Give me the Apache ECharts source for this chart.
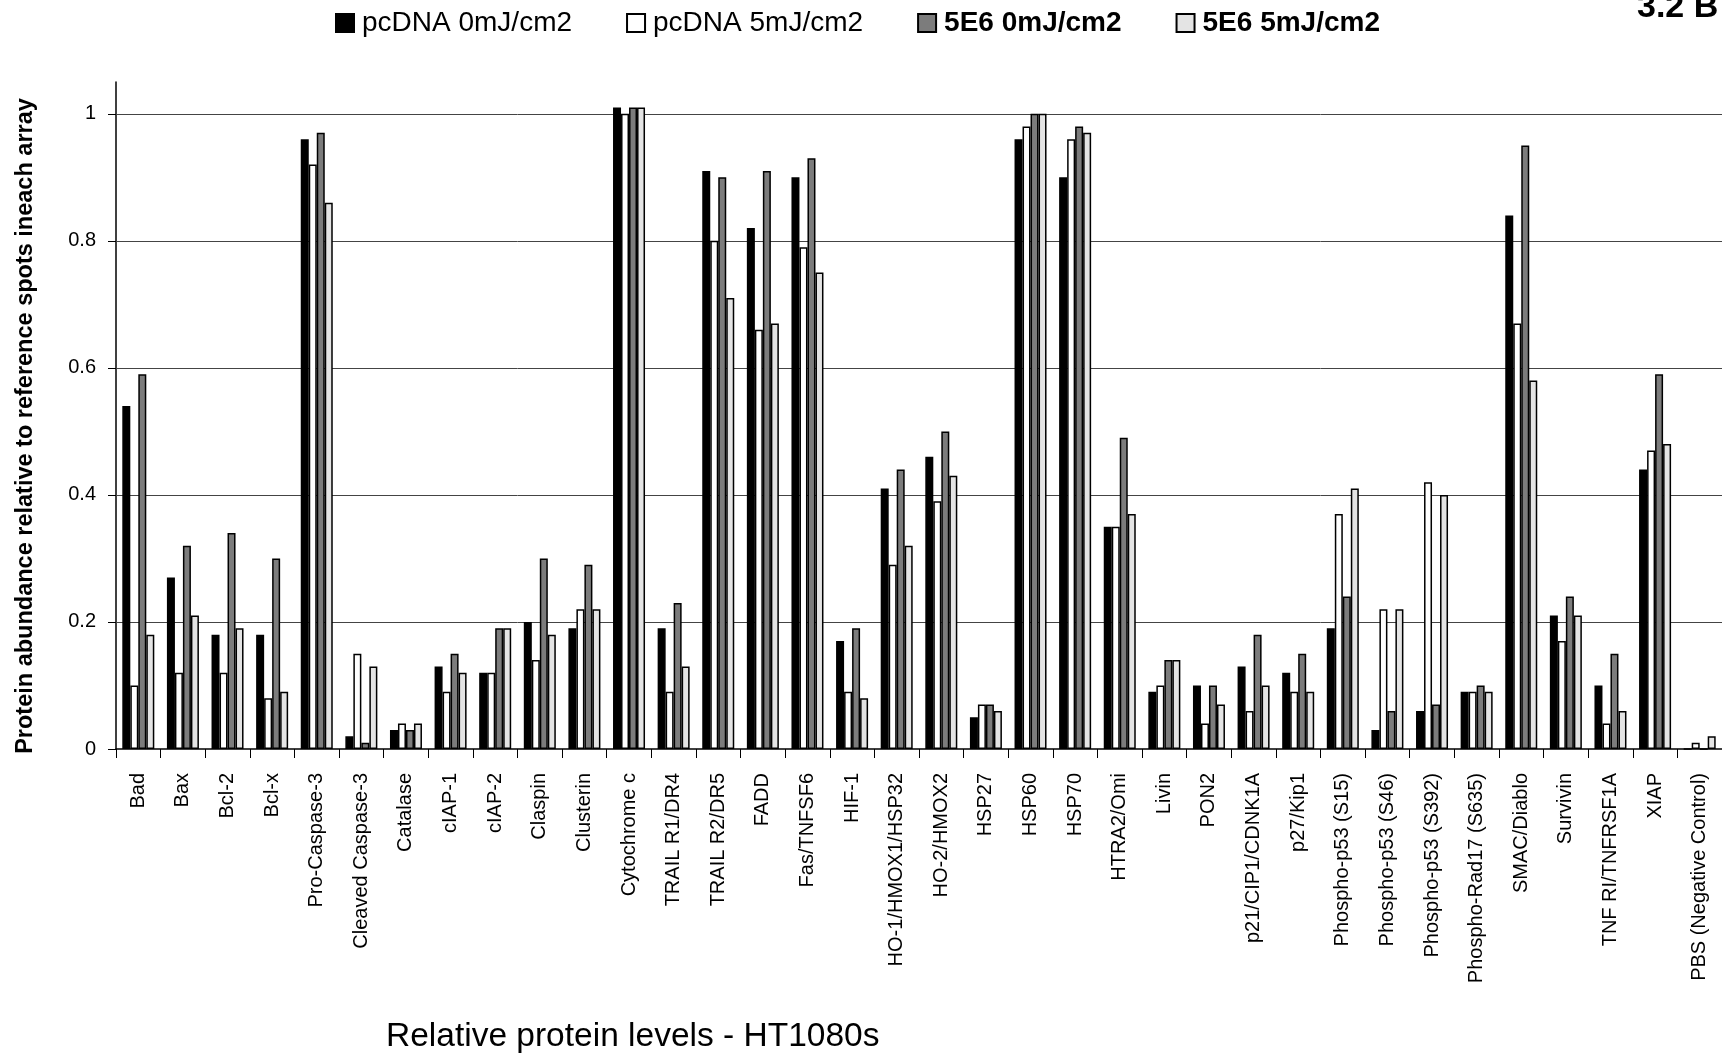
<!DOCTYPE html>
<html>
<head>
<meta charset="utf-8">
<script src="https://cdn.jsdelivr.net/npm/echarts@6/dist/echarts.min.js"></script>
<style>
html,body{margin:0;padding:0;background:#fff;}
#chart{width:1722px;height:1056px;}
</style>
</head>
<body>
<div id="chart"></div>
<script>
const categories = ["Bad","Bax","Bcl-2","Bcl-x","Pro-Caspase-3","Cleaved Caspase-3","Catalase","cIAP-1","cIAP-2","Claspin","Clusterin","Cytochrome c","TRAIL R1/DR4","TRAIL R2/DR5","FADD","Fas/TNFSF6","HIF-1","HO-1/HMOX1/HSP32","HO-2/HMOX2","HSP27","HSP60","HSP70","HTRA2/Omi","Livin","PON2","p21/CIP1/CDNK1A","p27/Kip1","Phospho-p53 (S15)","Phospho-p53 (S46)","Phospho-p53 (S392)","Phospho-Rad17 (S635)","SMAC/Diablo","Survivin","TNF RI/TNFRSF1A","XIAP","PBS (Negative Control)"];
const seriesNames = ["pcDNA 0mJ/cm2","pcDNA 5mJ/cm2","5E6 0mJ/cm2","5E6 5mJ/cm2"];
const pcDNA0 = [0.54,0.27,0.18,0.18,0.96,0.02,0.03,0.13,0.12,0.20,0.19,1.01,0.19,0.91,0.82,0.90,0.17,0.41,0.46,0.05,0.96,0.90,0.35,0.09,0.10,0.13,0.12,0.19,0.03,0.06,0.09,0.84,0.21,0.10,0.44,0.00];
const pcDNA5 = [0.10,0.12,0.12,0.08,0.92,0.15,0.04,0.09,0.12,0.14,0.22,1.00,0.09,0.80,0.66,0.79,0.09,0.29,0.39,0.07,0.98,0.96,0.35,0.10,0.04,0.06,0.09,0.37,0.22,0.42,0.09,0.67,0.17,0.04,0.47,0.01];
const e6_0 = [0.59,0.32,0.34,0.30,0.97,0.01,0.03,0.15,0.19,0.30,0.29,1.01,0.23,0.90,0.91,0.93,0.19,0.44,0.50,0.07,1.00,0.98,0.49,0.14,0.10,0.18,0.15,0.24,0.06,0.07,0.10,0.95,0.24,0.15,0.59,0.00];
const e6_5 = [0.18,0.21,0.19,0.09,0.86,0.13,0.04,0.12,0.19,0.18,0.22,1.01,0.13,0.71,0.67,0.75,0.08,0.32,0.43,0.06,1.00,0.97,0.37,0.14,0.07,0.10,0.09,0.41,0.22,0.40,0.09,0.58,0.21,0.06,0.48,0.02];
const yTicks = [0.2,0.4,0.6,0.8,1.0];

const FONT = '"Liberation Sans", Arial, sans-serif';
const chart = echarts.init(document.getElementById('chart'), null, {renderer:'canvas'});

const styles = [
  {color:'#000000', borderColor:'#000', borderWidth:1.5},
  {color:'#ffffff', borderColor:'#000', borderWidth:1.5},
  {color:'#7c7c7c', borderColor:'#000', borderWidth:1.5},
  {color:'#e4e4e4', borderColor:'#000', borderWidth:1.5}
];
const datas = [pcDNA0, pcDNA5, e6_0, e6_5];

const series = datas.map((d,i)=>({
  name: seriesNames[i],
  type:'bar',
  data:d,
  barWidth:8,
  barGap:'0%',
  itemStyle: styles[i],
  emphasis:{disabled:true},
  animation:false,
  z: 3
}));
series[0].markLine = {
  silent:true, symbol:'none', label:{show:false},
  lineStyle:{color:'#444', width:1, type:'solid'},
  data: yTicks.map(v=>({yAxis:v})),
  animation:false,
  z: 1
};

chart.setOption({
  animation:false,
  backgroundColor:'#fff',
  textStyle:{fontFamily:FONT},
  legend:{
    left:330, top:4,
    itemWidth:18, itemHeight:18, itemGap:54,
    icon:'rect',
    textStyle:{fontSize:28, color:'#000', fontFamily:FONT, padding:[0,0,0,3]},
    data:[
      {name:seriesNames[0]},
      {name:seriesNames[1]},
      {name:seriesNames[2], textStyle:{fontWeight:'bold'}},
      {name:seriesNames[3], textStyle:{fontWeight:'bold'}}
    ]
  },
  grid:{left:116, right:-11, top:82, bottom:307, containLabel:false},
  xAxis:{
    type:'category',
    data:categories,
    axisLine:{lineStyle:{color:'#000', width:1.5}},
    axisTick:{show:true, length:9, lineStyle:{color:'#000'}},
    axisLabel:{rotate:90, fontSize:20, color:'#000', margin:24, interval:0, fontFamily:FONT},
    splitLine:{show:false}
  },
  yAxis:{
    type:'value',
    min:0, max:1.05, interval:0.2,
    axisLine:{show:true, lineStyle:{color:'#000', width:1.5}},
    axisTick:{show:true, length:8, lineStyle:{color:'#000'}},
    axisLabel:{fontSize:20, color:'#000', margin:20, showMaxLabel:false, fontFamily:FONT,
      formatter:v=> (Math.abs(v*5 - Math.round(v*5))<1e-6 ? String(+v.toFixed(1)) : '')},
    splitLine:{show:false}
  },
  graphic:[
    {type:'text', x:26, y:426, rotation:Math.PI/2,
     style:{text:'Protein abundance relative to reference spots ineach array', fontSize:23.5, fontWeight:'bold', fill:'#000', fontFamily:FONT, align:'center', verticalAlign:'middle'}},
    {type:'text', left:386, top:1020, style:{text:'Relative protein levels - HT1080s', fontSize:33.5, fill:'#000', fontFamily:FONT}},
    {type:'text', left:1637, top:-9, style:{text:'3.2 B', fontSize:34, fontWeight:'bold', fill:'#000', fontFamily:FONT}}
  ],
  series:series
});
</script>
</body>
</html>
